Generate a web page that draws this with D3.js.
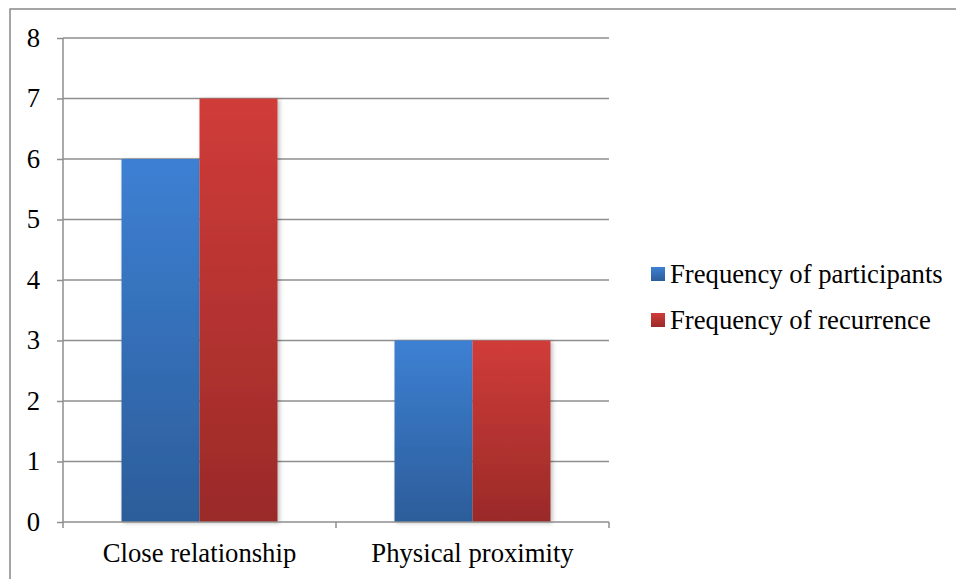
<!DOCTYPE html>
<html><head><meta charset="utf-8">
<script src="https://cdn.jsdelivr.net/npm/d3@7"></script>
<style>
body{margin:0;background:#fff}
#chart{position:relative;width:956px;height:579px;overflow:hidden}
#chart svg{position:absolute;left:0;top:0;display:block}
.lbl{position:absolute;white-space:nowrap;font-family:'Liberation Serif','Times New Roman',serif;font-size:26.7px;line-height:26.7px;color:#000}
</style>
</head><body>
<div id="chart"></div>
<script>
const categories = ["Close relationship", "Physical proximity"];
const seriesNames = ["Frequency of participants", "Frequency of recurrence"];
const participants = [6, 3];
const recurrence = [7, 3];
const yTicks = [0,1,2,3,4,5,6,7,8];

const W = 956, H = 579;
const BASE = 22.4; // baseline offset inside label box
const chart = d3.select("#chart");
const svg = chart.append("svg").attr("width", W).attr("height", H);
const defs = svg.append("defs");
const grads = [["gBlue", "#3d80d3", "#2c5d9a"], ["gRed", "#d03c39", "#9a2a28"]];
grads.forEach(([id, a, b]) => {
  const g = defs.append("linearGradient").attr("id", id).attr("x1", 0).attr("y1", 0).attr("x2", 0).attr("y2", 1);
  g.append("stop").attr("offset", "0%").attr("stop-color", a);
  g.append("stop").attr("offset", "100%").attr("stop-color", b);
});
const f = defs.append("filter").attr("id", "sh").attr("x", "-20%").attr("y", "-10%").attr("width", "150%").attr("height", "130%");
f.append("feDropShadow").attr("dx", 2).attr("dy", 1).attr("stdDeviation", 2).attr("flood-color", "#000").attr("flood-opacity", 0.25);

svg.append("rect").attr("x", 10).attr("y", 9).attr("width", W).attr("height", H).attr("fill", "none").attr("stroke", "#888").attr("stroke-width", 1.5);

const x0 = 63, x1 = 609, y0 = 522, y1 = 38;
const x = d3.scaleBand().domain(categories).range([x0, x1]);
const xs = d3.scaleBand().domain(seriesNames).range([0, x.bandwidth()]).paddingOuter(0.75).paddingInner(0);
const y = d3.scaleLinear().domain([0, 8]).range([y0, y1]);

svg.append("g").selectAll("line").data(yTicks.filter(d => d > 0)).join("line")
  .attr("x1", x0).attr("x2", x1).attr("y1", d => y(d)).attr("y2", d => y(d))
  .attr("stroke", "#8e8e8e").attr("stroke-width", 1.5);

const data = [participants, recurrence];
seriesNames.forEach((s, si) => {
  svg.append("g").selectAll("rect").data(categories).join("rect")
    .attr("x", c => x(c) + xs(s)).attr("width", xs.bandwidth())
    .attr("y", (c, i) => y(data[si][i])).attr("height", (c, i) => y0 - y(data[si][i]))
    .attr("fill", `url(#${grads[si][0]})`).attr("filter", "url(#sh)");
});

// axes (lines via d3 axis; labels as HTML text for the serif font)
const ya = svg.append("g").attr("transform", `translate(${x0},0)`)
  .call(d3.axisLeft(y).tickValues(yTicks).tickSize(6).tickFormat(""));
ya.select(".domain").attr("stroke", "#8e8e8e").attr("stroke-width", 1.5).attr("d", `M0,${y1}V${y0}`);
ya.selectAll(".tick line").attr("stroke", "#8e8e8e").attr("stroke-width", 1.5);

const xa = svg.append("g").attr("transform", `translate(0,${y0})`)
  .call(d3.axisBottom(x).tickSize(0).tickFormat(""));
xa.select(".domain").attr("stroke", "#8e8e8e").attr("stroke-width", 1.5).attr("d", `M${x0},0H${x1}`);
svg.append("g").selectAll("line").data([x0, x0 + x.bandwidth(), x1]).join("line")
  .attr("x1", d => d).attr("x2", d => d).attr("y1", y0).attr("y2", y0 + 6)
  .attr("stroke", "#8e8e8e").attr("stroke-width", 1.5);

// y tick labels
chart.selectAll("div.ytl").data(yTicks).join("div").attr("class", "lbl ytl")
  .style("right", (W - 40) + "px")
  .style("top", d => (y(d) + 9 - BASE) + "px")
  .text(d => d3.format("d")(d));

// category labels
chart.selectAll("div.xtl").data(categories).join("div").attr("class", "lbl xtl")
  .style("left", d => (x(d) + x.bandwidth() / 2) + "px")
  .style("top", (y0 + 40 - BASE) + "px")
  .style("transform", "translateX(-50%)")
  .text(d => d);

// legend
const legY = [274, 320];
svg.append("g").selectAll("rect").data(seriesNames).join("rect")
  .attr("x", 651).attr("y", (d, i) => legY[i] - 7).attr("width", 14).attr("height", 14)
  .attr("fill", (d, i) => `url(#${grads[i][0]})`);
chart.selectAll("div.leg").data(seriesNames).join("div").attr("class", "lbl leg")
  .style("left", "670px")
  .style("top", (d, i) => (legY[i] + 9 - BASE) + "px")
  .text(d => d);
</script>
</body></html>
